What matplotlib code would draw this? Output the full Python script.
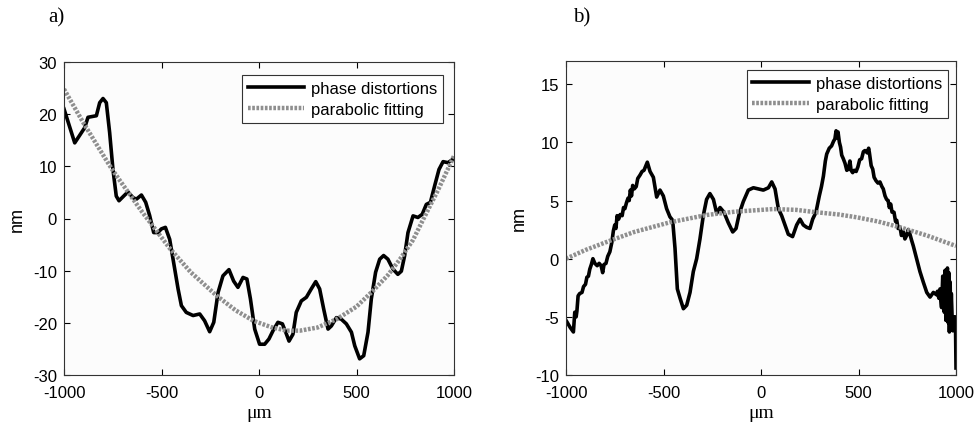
import matplotlib
matplotlib.use('Agg')
import matplotlib.pyplot as plt

plt.rcParams['font.family'] = ['Liberation Sans', 'DejaVu Sans']
plt.rcParams['axes.unicode_minus'] = False

# panel a) : phase distortions (read off the picture)
xa = [-1000, -945, -894, -877, -834, -817, -800, -783, -766, -749, -732, -718, -694, -672,
      -646, -629, -603, -581, -561, -540, -518, -501, -480, -458, -438, -415, -398, -373,
      -338, -304, -279, -253, -232, -210, -185, -154, -130, -108, -82, -62, -44, -22, 3,
      29, 51, 72, 97, 120, 137, 154, 174, 191, 217, 243, 268, 291, 311, 332, 354, 371,
      397, 422, 448, 474, 491, 516, 537, 559, 576, 598, 619, 639, 661, 687, 712, 730,
      747, 764, 790, 815, 837, 858, 879, 901, 923, 944, 969, 1000]
ya = [21.0, 14.5, 17.4, 19.4, 19.7, 22.2, 23.0, 22.2, 16.5, 9.4, 4.3, 3.4, 4.3, 5.1,
      4.0, 3.7, 4.5, 3.1, 0.6, -2.7, -2.7, -2.0, -1.7, -4.0, -8.4, -13.5, -16.7, -18.0,
      -18.6, -18.3, -19.6, -21.7, -19.9, -14.2, -11.0, -9.8, -12.0, -13.2, -11.3, -11.6, -15.4, -21.2, -24.1,
      -24.1, -23.1, -21.5, -19.9, -20.2, -21.8, -23.5, -22.2, -18.0, -15.8, -15.1, -13.5, -12.1, -13.5, -17.4, -21.2, -20.6,
      -19.0, -19.3, -20.2, -21.8, -24.4, -26.9, -26.3, -21.8, -15.4, -10.3, -7.8, -7.1, -7.8, -9.7, -10.7, -10.1,
      -7.1, -2.7, 0.5, 0.2, 0.8, 2.7, 3.1, 6.3, 9.4, 10.9, 10.7, 11.5]

# panel a) : parabolic fitting
xa_fit = [-1000, -900, -800, -755, -713, -600, -456, -350, -217, -120, -29, 60, 142, 210,
          300, 398, 500, 586, 660, 723, 790, 843, 920, 1000]
ya_fit = [24.8, 18.3, 12.2, 9.5, 7.25, 1.3, -5.8, -10.3, -14.8, -17.6, -19.6, -20.8, -21.5, -21.5,
          -20.9, -19.3, -16.9, -13.8, -10.9, -7.8, -4.1, -0.1, 5.6, 12.0]

# panel b) : phase distortions
xb = [-1000, -979, -962, -955, -948, -944, -938, -930, -918, -910, -900, -893, -885, -878,
      -870, -862, -852, -840, -830, -820, -812, -805, -795, -786, -775, -765, -757, -750,
      -744, -738, -730, -722, -712, -705, -698, -690, -682, -676, -670, -664, -658, -650,
      -640, -632, -620, -610, -600, -590, -583, -576, -569,
      -552, -535, -518, -501, -484, -467, -453, -441, -429, -415, -398, -381, -364, -347,
      -330, -313, -296, -279, -262, -244, -227, -210, -190, -168, -145, -128, -111, -91,
      -65, -39, -14, 12, 38, 55, 72, 89, 106, 123, 140, 162, 183, 200, 217, 234, 251,
      265, 282, 299, 310, 320, 330, 337, 350, 362, 372, 379, 385, 390, 395, 402, 408,
      414, 422, 431, 440, 448, 456, 462, 470, 478, 488, 497, 506, 516, 525, 533, 545,
      552, 556, 565, 573, 580, 590, 600, 610, 620, 627, 636, 644, 652, 658, 665, 672,
      682, 690, 696, 703, 713, 720, 730, 738, 747, 755, 764, 772, 781, 798,
      815, 832, 850, 867, 884, 900, 905, 912, 918, 922, 926, 932, 936, 940, 944, 948,
      952, 956, 960, 963, 966, 970, 973, 976, 980, 984, 988, 993, 997, 1000]
yb = [-5.3, -5.9, -6.3, -4.6, -5.0, -4.5, -3.2, -3.0, -2.9, -2.4, -2.2, -1.6, -1.5, -0.9,
      -0.5, 0.0, -0.4, -0.6, -0.4, -0.6, -1.2, -0.5, -0.4, 0.2, 0.6, 1.4, 2.4, 2.9,
      2.6, 3.7, 3.4, 3.8, 3.7, 4.4, 4.3, 4.8, 5.2, 5.0, 5.9, 5.4, 6.3, 6.0,
      6.2, 6.9, 7.2, 7.5, 7.6, 8.0, 8.3, 7.9, 7.5,
      7.0, 5.3, 5.9, 5.4, 4.3, 3.6, 3.3, 0.9, -2.6, -3.4, -4.3, -4.0, -2.9, -1.1,
      0.0, 1.7, 3.7, 5.1, 5.6, 5.1, 3.9, 4.4, 4.0, 3.1, 2.3, 2.6, 3.9, 4.9,
      5.9, 6.1, 6.0, 5.9, 6.1, 6.6, 6.0, 4.3, 3.7, 2.9, 2.1, 1.9, 2.9, 3.4, 2.9, 2.7, 2.6,
      3.4, 4.0, 5.4, 6.2, 7.1, 8.4, 9.0, 9.5, 9.7, 10.1, 10.3, 11.0, 10.4, 10.9, 10.0, 9.6,
      8.9, 8.6, 8.2, 7.6, 7.7, 8.4, 7.6, 7.4, 7.6, 7.5, 7.9, 8.5, 8.6, 9.2, 9.3, 9.1,
      9.5, 9.1, 8.0, 7.7, 7.0, 6.7, 6.5, 6.6, 6.2, 6.0, 5.4, 5.1, 5.0, 4.4, 4.7, 4.0,
      4.0, 3.2, 3.3, 2.6, 2.7, 2.0, 2.3, 1.7, 2.0, 2.5, 2.1, 1.6, 1.1, 0.0,
      -1.1, -2.0, -2.9, -3.3, -2.9, -3.1, -2.8, -3.4, -2.6, -3.6, -4.2, -1.5, -3.0, -4.6, -1.0, -5.3,
      -2.0, -0.8, -5.5, -1.2, -6.3, -2.0, -5.8, -3.0, -5.0, -6.2, -5.0, -5.5, -5.0, -9.4]

# panel b) : parabolic fitting
xb_fit = [-1000, -900, -774, -650, -467, -278, -130, -5, 63, 180, 286, 400, 491, 600, 713, 850, 986, 1000]
yb_fit = [0.0, 0.75, 1.55, 2.3, 3.13, 3.76, 4.05, 4.19, 4.27, 4.2, 3.99, 3.8, 3.56, 3.2, 2.7, 2.0, 1.18, 1.1]

fig = plt.figure(figsize=(9.77, 4.27), dpi=100)
ax1 = fig.add_axes([64 / 977, 1 - 376 / 427, 390 / 977, 313 / 427])
ax2 = fig.add_axes([566 / 977, 1 - 376 / 427, 390 / 977, 314 / 427])

panels = [(ax1, xa, ya, xa_fit, ya_fit, (-30, 30), range(-30, 31, 10), (0.972, 0.958)),
          (ax2, xb, yb, xb_fit, yb_fit, (-10, 17), range(-10, 16, 5), (0.979, 0.971))]

for ax, x, y, xf, yf, ylim, yt, anchor in panels:
    ax.set_facecolor('#fcfcfc')
    ax.plot(x, y, color='black', lw=2.6, solid_joinstyle='round', label='phase distortions')
    ax.plot(xf, yf, color='#8f8f8f', lw=3.2, dashes=(0.6, 0.35), label='parabolic fitting')
    ax.set_xlim(-1000, 1000)
    ax.set_ylim(*ylim)
    ax.set_xticks([-1000, -500, 0, 500, 1000])
    ax.set_yticks(list(yt))
    ax.tick_params(direction='in', top=True, right=True, length=4, labelsize=12, width=0.8)
    ax.tick_params(axis='x', pad=7)
    ax.tick_params(axis='y', pad=5)
    for sp in ax.spines.values():
        sp.set_linewidth(0.8)
        sp.set_color('#333333')
    ax.set_xlabel('μm', family='Liberation Serif', fontsize=14, labelpad=3)
    ax.set_ylabel('nm', fontsize=13, labelpad=5)
    leg = ax.legend(loc='upper right', bbox_to_anchor=anchor, borderaxespad=0,
                    fancybox=False, framealpha=1, edgecolor='#333333', fontsize=12,
                    handlelength=3.4, handletextpad=0.4, labelspacing=0.35,
                    borderpad=0.35)
    leg.get_frame().set_linewidth(0.8)

fig.text(48 / 977, 1 - 18 / 427, 'a)', family='Liberation Serif', fontsize=15, va='center')
fig.text(573 / 977, 1 - 18 / 427, 'b)', family='Liberation Serif', fontsize=15, va='center')

fig.savefig('out.png', dpi=100)
